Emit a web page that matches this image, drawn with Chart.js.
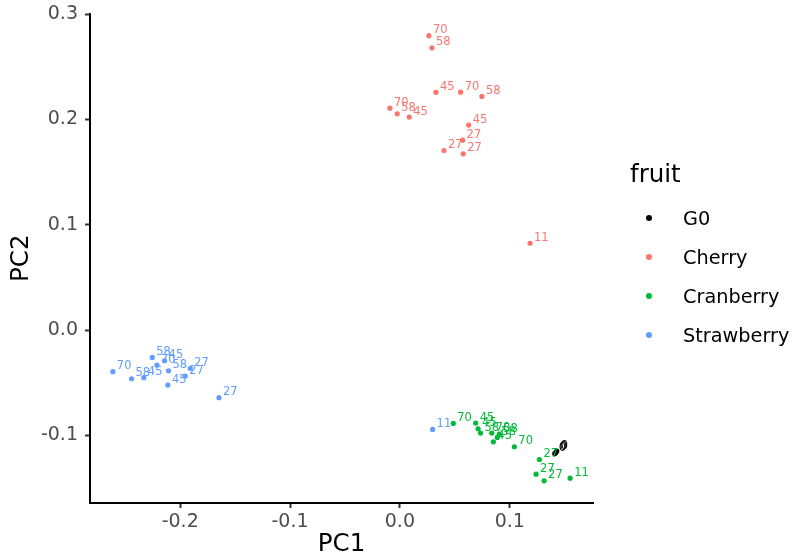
<!DOCTYPE html>
<html>
<head>
<meta charset="utf-8">
<script src="https://cdn.jsdelivr.net/npm/chart.js@4.4.1/dist/chart.umd.min.js"></script>
<style>
  body { margin: 0; background: #fff; font-family: "DejaVu Sans", sans-serif; }
  #wrap { position: relative; width: 794px; height: 559px; }
  #legend { position: absolute; left: 0; top: 0; }
  .leg-title { position: absolute; left: 630px; top: 162px; font-size: 24.5px; line-height: 24.5px; color: #000; }
  .leg-item { position: absolute; left: 683px; font-size: 19.3px; line-height: 19.3px; color: #000; white-space: nowrap; }
  .leg-dot { position: absolute; left: 646px; width: 6px; height: 6px; border-radius: 50%; }
</style>
</head>
<body>
<div id="wrap">
  <canvas id="pcaChart" width="794" height="559"></canvas>
  <div id="legend"></div>
</div>
<script>
// PCA scores per fruit, with the time labels printed beside each point
const g0PC1 = [0.1410, 0.1420, 0.1428];
const g0PC2 = [-0.1175, -0.1163, -0.1150];
const g0Time = ['0', '0', '0'];

const cherryPC1 = [0.0264, 0.0292, 0.0328, 0.0553, 0.0747, -0.0091, -0.0024, 0.0085, 0.0626, 0.0571, 0.0401, 0.0577, 0.1185];
const cherryPC2 = [0.2795, 0.2680, 0.2257, 0.2259, 0.2218, 0.2107, 0.2053, 0.2022, 0.1946, 0.1803, 0.1705, 0.1673, 0.0824];
const cherryTime = ['70', '58', '45', '70', '58', '70', '58', '45', '45', '27', '27', '27', '11'];

const cranberryPC1 = [0.0486, 0.0690, 0.0712, 0.0734, 0.0836, 0.0851, 0.0887, 0.0905, 0.1042, 0.1270, 0.1240, 0.1313, 0.1550];
const cranberryPC2 = [-0.0887, -0.0884, -0.0938, -0.0979, -0.0979, -0.1062, -0.1020, -0.0989, -0.1109, -0.1230, -0.1369, -0.1432, -0.1407];
const cranberryTime = ['70', '45', '45', '58', '70', '45', '58', '58', '70', '27', '27', '27', '11'];

const strawberryPC1 = [-0.2613, -0.2443, -0.2331, -0.2254, -0.2212, -0.2142, -0.2106, -0.2112, -0.1954, -0.1908, -0.1647, 0.0298];
const strawberryPC2 = [-0.0396, -0.0463, -0.0453, -0.0260, -0.0333, -0.0292, -0.0387, -0.0523, -0.0437, -0.0364, -0.0643, -0.0944];
const strawberryTime = ['70', '58', '45', '58', '70', '45', '58', '45', '27', '27', '27', '11'];

const fruitNames = ['G0', 'Cherry', 'Cranberry', 'Strawberry'];
const fruitColors = ['#000000', '#F8766D', '#00BA38', '#619CFF'];

const xTicks = [-0.2, -0.1, 0.0, 0.1];
const yTicks = [-0.1, 0.0, 0.1, 0.2, 0.3];

(function() {
    const FONT = "'DejaVu Sans', sans-serif";

    const series = [
        [g0PC1, g0PC2, g0Time],
        [cherryPC1, cherryPC2, cherryTime],
        [cranberryPC1, cranberryPC2, cranberryTime],
        [strawberryPC1, strawberryPC2, strawberryTime]
    ];

    const datasets = series.map(function(s, i) {
        return {
            label: fruitNames[i],
            data: s[0].map(function(x, j) { return { x: x, y: s[1][j], t: s[2][j] }; }),
            backgroundColor: fruitColors[i],
            borderWidth: 0,
            pointRadius: 2.6,
            pointHoverRadius: 2.6
        };
    });

    /**
     * Draws the time label at the upper right of every point
     */
    const pointLabels = {
        id: 'pointLabels',
        afterDatasetsDraw(chart) {
            const ctx = chart.ctx;
            ctx.save();
            ctx.font = '11.5px ' + FONT;
            ctx.textAlign = 'left';
            ctx.textBaseline = 'alphabetic';
            chart.data.datasets.forEach(function(ds, i) {
                const meta = chart.getDatasetMeta(i);
                ctx.fillStyle = ds.backgroundColor;
                meta.data.forEach(function(pt, j) {
                    ctx.fillText(ds.data[j].t, pt.x + 4, pt.y - 2.5);
                });
            });
            ctx.restore();
        }
    };

    function axisStyle(title, ticks, fit) {
        return {
            type: 'linear',
            afterBuildTicks: function(scale) {
                scale.ticks = ticks.map(function(v) { return { value: v }; });
            },
            afterFit: function(s) {
                fit(s);
                // keep the panel edges where the layout padding puts them
                s.paddingTop = 0;
                s.paddingBottom = 0;
                s.paddingLeft = 0;
                s.paddingRight = 0;
            },
            ticks: {
                callback: function(v) { return v.toFixed(1); },
                font: { size: 19, family: FONT },
                color: '#4D4D4D',
                maxRotation: 0,
                autoSkip: false
            },
            grid: {
                display: true,
                drawOnChartArea: false,
                drawTicks: true,
                tickLength: 5,
                tickWidth: 2,
                tickColor: '#333333'
            },
            border: { display: true, color: '#000000', width: 2 },
            title: {
                display: true,
                text: title,
                font: { size: 24.5, family: FONT },
                color: '#000000'
            }
        };
    }

    const xScale = axisStyle('PC1', xTicks, function(s) { s.height = 56; });
    xScale.min = -0.2821;
    xScale.max = 0.1758;
    xScale.ticks.padding = 3;
    xScale.title.padding = { top: 0, bottom: 0 };

    const yScale = axisStyle('PC2', yTicks, function(s) { s.width = 90; });
    yScale.min = -0.1643;
    yScale.max = 0.3006;
    yScale.ticks.padding = 7;
    yScale.title.padding = { top: 7, bottom: 0 };

    new Chart(document.getElementById('pcaChart').getContext('2d'), {
        type: 'scatter',
        data: { datasets: datasets },
        options: {
            responsive: false,
            animation: false,
            events: [],
            layout: { padding: { top: 13.5, right: 201, left: 0, bottom: 0 } },
            scales: { x: xScale, y: yScale },
            plugins: { legend: { display: false }, tooltip: { enabled: false } }
        },
        plugins: [pointLabels]
    });

    // Legend in the ggplot style, at the right of the panel
    const legend = document.getElementById('legend');
    let html = '<div class="leg-title">fruit</div>';
    const rowY = [218, 257, 296, 335];
    fruitNames.forEach(function(name, i) {
        html += '<span class="leg-dot" style="top:' + (rowY[i] - 3) + 'px;background:' + fruitColors[i] + '"></span>';
        html += '<div class="leg-item" style="top:' + (rowY[i] - 9.5) + 'px">' + name + '</div>';
    });
    legend.innerHTML = html;
})();
</script>
</body>
</html>
